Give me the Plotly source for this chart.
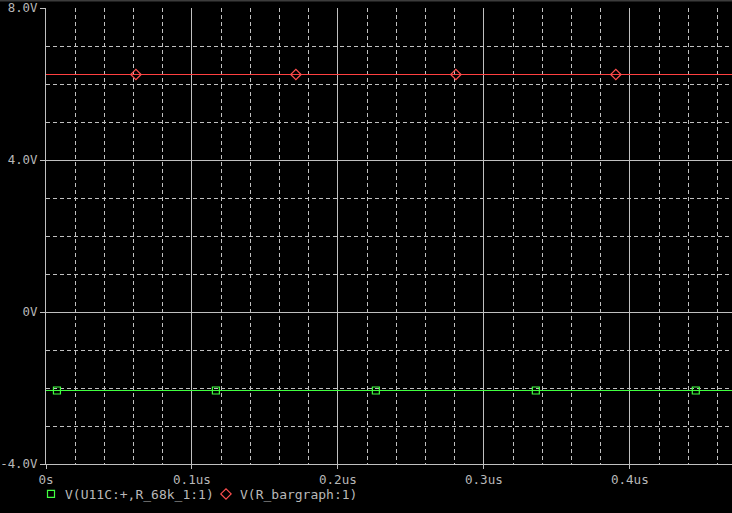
import plotly.graph_objects as go

# Data (time in us, voltage in V)
t_line = [0.0, 0.48]
v_bargraph = [6.25, 6.25]
v_u11c = [-2.066, -2.066]

t_mark_bargraph = [0.0616, 0.1712, 0.2808, 0.3904]
t_mark_u11c = [0.0075, 0.1164, 0.2260, 0.3356, 0.4452]

x_tickvals = [0, 0.1, 0.2, 0.3, 0.4]
x_ticktext = ["0s", "0.1us", "0.2us", "0.3us", "0.4us"]
y_tickvals = [8, 4, 0, -4]
y_ticktext = ["8.0V", "4.0V", "0V", "-4.0V"]
series_names = ["V(U11C:+,R_68k_1:1)", "V(R_bargraph:1)"]

GREEN = "#40ff40"
RED = "#ff4040"
GRID = "#c0c0c0"
TXT = "#b8b8b8"
FONT = "DejaVu Sans Mono"

W, H = 732, 513
ML, MT, MB = 46, 8, 49
PW, PH = W - ML, H - MT - MB

fig = go.Figure()
fig.add_trace(go.Scatter(x=t_line, y=v_u11c, mode="lines", line=dict(color=GREEN, width=1),
                         showlegend=False, hoverinfo="skip"))
fig.add_trace(go.Scatter(x=t_mark_u11c, y=[v_u11c[0]] * len(t_mark_u11c), mode="markers",
                         marker=dict(symbol="square-open", size=7, color=GREEN, line=dict(width=1.2)),
                         name=" ", showlegend=True))
fig.add_trace(go.Scatter(x=t_line, y=v_bargraph, mode="lines", line=dict(color=RED, width=1),
                         showlegend=False, hoverinfo="skip"))
fig.add_trace(go.Scatter(x=t_mark_bargraph, y=[v_bargraph[0]] * len(t_mark_bargraph), mode="markers",
                         marker=dict(symbol="diamond-open", size=8, color="#ff5050", line=dict(width=1.2)),
                         name=" ", showlegend=True))

legend_text_x = [63, 238]
annotations = [dict(text=n, xref="paper", yref="paper", x=(px - ML) / PW, y=(PH - (494 - MT)) / PH,
                    xanchor="left", yanchor="middle", showarrow=False,
                    font=dict(family=FONT, size=13, color=TXT))
               for n, px in zip(series_names, legend_text_x)]

fig.update_layout(
    width=W, height=H,
    margin=dict(l=ML, r=0, t=MT, b=MB, autoexpand=False),
    paper_bgcolor="black", plot_bgcolor="black",
    font=dict(family=FONT, size=13, color=TXT),
    xaxis=dict(range=[0, 0.47], tickvals=x_tickvals, ticktext=x_ticktext,
               showgrid=True, gridcolor=GRID, gridwidth=1,
               ticks="outside", ticklen=4, tickcolor=GRID, tickwidth=1,
               showline=True, linecolor=GRID, linewidth=1,
               zeroline=False, automargin=False,
               minor=dict(dtick=0.02, showgrid=True, gridcolor=GRID, griddash="4px,3px", gridwidth=1, ticks=""),
               tickfont=dict(family=FONT, size=12.6, color=TXT)),
    yaxis=dict(range=[-4, 8], tickvals=y_tickvals, ticktext=y_ticktext,
               showgrid=True, gridcolor=GRID, gridwidth=1,
               ticks="outside", ticklen=5, tickcolor=GRID, tickwidth=1,
               showline=True, linecolor=GRID, linewidth=1,
               zeroline=False, automargin=False,
               minor=dict(dtick=1, showgrid=True, gridcolor=GRID, griddash="4px,3px", gridwidth=1, ticks=""),
               tickfont=dict(family=FONT, size=12.4, color=TXT)),
    legend=dict(orientation="h", xref="container", yref="container", x=31 / W, y=(H - 494) / H,
                xanchor="left", yanchor="middle", bgcolor="rgba(0,0,0,0)", borderwidth=0,
                font=dict(family=FONT, size=13, color=TXT), itemwidth=30, tracegroupgap=0,
                entrywidth=130, entrywidthmode="pixels"),
    annotations=annotations,
    shapes=[dict(type="line", xref="paper", yref="paper", x0=-0.1, x1=1.1,
                 y0=1 + 7.5 / PH, y1=1 + 7.5 / PH, line=dict(color="#3c3c3c", width=2))],
)

fig.write_html("out.html", config={"displayModeBar": False},
               post_script="document.body.style.margin='0';document.body.style.background='black';"
                           "document.body.style.overflow='hidden';")
